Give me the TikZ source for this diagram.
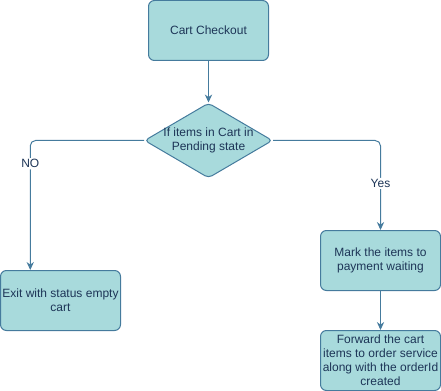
\documentclass[tikz,border=0pt]{standalone}
\usepackage{fontspec}
\setmainfont{Liberation Sans}
\usetikzlibrary{shapes.geometric,arrows.meta,calc}

\definecolor{boxfill}{HTML}{A8DADC}
\definecolor{boxline}{HTML}{457B9D}
\definecolor{boxtext}{HTML}{1D3557}

\begin{document}
\begin{tikzpicture}[x=0.75pt, y=-0.75pt, >={Stealth[length=6pt,width=5.5pt]},
    every node/.style={font=\fontsize{9pt}{10.5pt}\selectfont, text=boxtext},
    stepbox/.style={draw=boxline, fill=boxfill, line width=0.75pt, rounded corners=4.5pt,
      minimum width=90pt, minimum height=45pt, align=center, inner sep=1pt},
    decision/.style={diamond, draw=boxline, fill=boxfill, line width=0.75pt, rounded corners=3pt,
      minimum width=96pt, minimum height=56.25pt, inner sep=0pt},
    flow/.style={->, draw=boxline, line width=0.75pt, rounded corners=4pt},
    edgelabel/.style={fill=white, inner sep=1pt}]
      \useasboundingbox (0,0) rectangle (441,391);

      % Checkout start and the pending check
      \node[stepbox] (checkout) at (208.5,30.5) {Cart Checkout};
      \node[decision, label={[align=center]center:If items in Cart in\\Pending state}]
        (pending) at (208.5,140.5) {};

      % Outcomes of the check
      \node[stepbox] (exit) at (60.5,300.5) {Exit with status empty\\cart};
      \node[stepbox] (mark) at (380.5,260.5) {Mark the items to\\payment waiting};
      \node[stepbox] (forward) at (380.5,360.5) {Forward the cart\\items to order service\\along with the orderId\\created};

      % Connectors
      \draw[flow] (checkout) -- (pending);
      \draw[flow] (pending.west) -| ($(exit.north west)!0.25!(exit.north east)$)
        node[pos=0.59, edgelabel] (no) {NO};
      \draw[flow] (pending.east) -| (mark.north)
        node[pos=0.74, edgelabel] (yes) {Yes};
      \draw[flow] (mark) -- (forward);
    \end{tikzpicture}
\end{document}
